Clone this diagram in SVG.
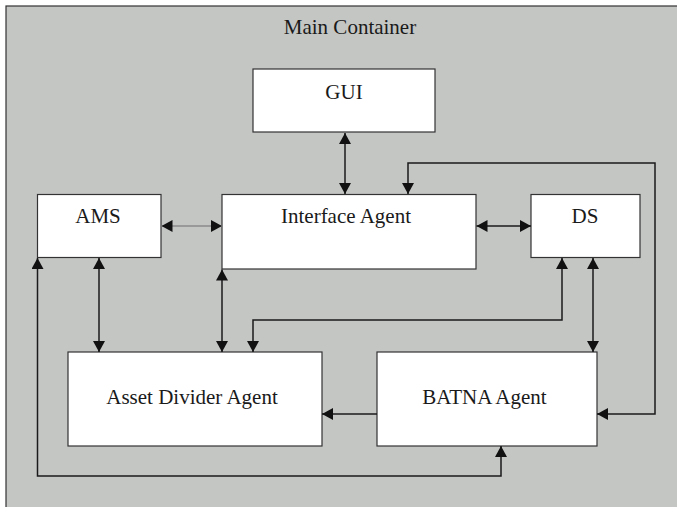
<svg xmlns="http://www.w3.org/2000/svg" width="677" height="507" viewBox="0 0 677 507">
<defs>
<marker id="ah" markerUnits="userSpaceOnUse" markerWidth="12" markerHeight="12" refX="11" refY="6" orient="auto-start-reverse" viewBox="0 0 12 12">
<path d="M0,0 L11,6 L0,12 z" fill="#111"/>
</marker>
<style>
.box{fill:#fff;stroke:#333;stroke-width:1.2}
.lbl{font-family:"Liberation Serif","Times New Roman",serif;font-size:21px;fill:#1a1a1a;text-anchor:middle}
.c{fill:none;stroke:#1a1a1a;stroke-width:1.5}
.c2{marker-start:url(#ah);marker-end:url(#ah)}
.c1{marker-end:url(#ah)}
</style>
</defs>
<rect x="0" y="0" width="677" height="507" fill="#fff"/>
<g id="container">
<rect x="6" y="6" width="680" height="510" fill="#c4c6c4" stroke="#333" stroke-width="1.2"/>
<text class="lbl" x="350" y="34">Main Container</text>
</g>
<g id="gui"><rect class="box" x="253" y="69" width="182" height="63"/><text class="lbl" x="344" y="99">GUI</text></g>
<g id="ams"><rect class="box" x="37.5" y="194.5" width="123.5" height="63"/><text class="lbl" x="98" y="223">AMS</text></g>
<g id="interface"><rect class="box" x="222" y="194.5" width="254" height="74.5"/><text class="lbl" x="346" y="223">Interface Agent</text></g>
<g id="ds"><rect class="box" x="531" y="194.5" width="109" height="63"/><text class="lbl" x="585" y="223">DS</text></g>
<g id="asset"><rect class="box" x="68" y="352" width="254" height="94"/><text class="lbl" x="192" y="403.5">Asset Divider Agent</text></g>
<g id="batna"><rect class="box" x="377" y="352" width="220" height="94"/><text class="lbl" x="484.5" y="403.5">BATNA Agent</text></g>
<g id="connectors">
<path class="c c2" d="M345,133 L345,194"/>
<path class="c c2" style="stroke:#8a8a8a" d="M161.5,226 L222,226"/>
<path class="c c2" d="M476.5,226 L531,226"/>
<path class="c c2" d="M408,194 L408,163 L655,163 L655,414 L597,414"/>
<path class="c c2" d="M99,258 L99,352"/>
<path class="c c2" d="M222,269.5 L222,352"/>
<path class="c c2" d="M562,258 L562,320 L253,320 L253,352"/>
<path class="c c2" d="M593,258 L593,352"/>
<path class="c c1" d="M377,414 L322,414"/>
<path class="c c2" d="M37.5,258 L37.5,476 L501,476 L501,446"/>
</g>
</svg>
